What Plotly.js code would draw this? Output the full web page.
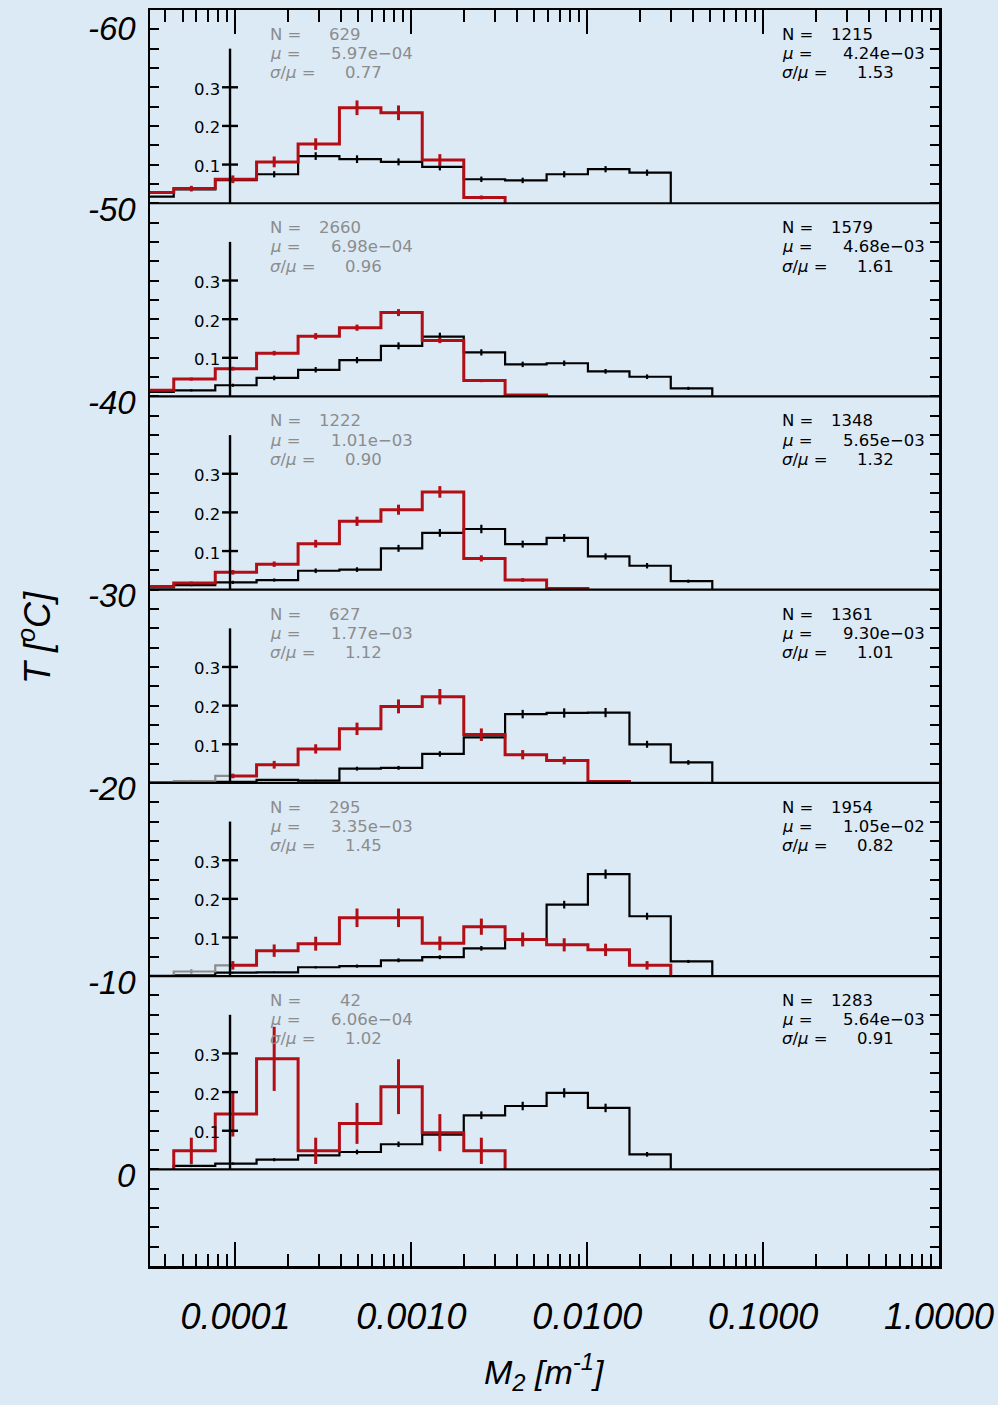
<!DOCTYPE html>
<html>
<head>
<meta charset="utf-8">
<script src="https://cdn.plot.ly/plotly-3.0.1.min.js"></script>
<style>
  html, body { margin: 0; padding: 0; background: rgb(220,234,246); }
  #chart { width: 998px; height: 1405px; }
</style>
</head>
<body>
<div id="chart"></div>
<script>
// Logarithmic M2 bins [m^-1]: 16 edges, 15 bins
const binEdges = [2.594e-5, 4.457e-5, 7.674e-5, 1.318e-4, 2.270e-4, 3.899e-4, 6.714e-4, 1.153e-3,
                  1.986e-3, 3.412e-3, 5.875e-3, 1.009e-2, 1.738e-2, 2.985e-2, 5.140e-2, 8.831e-2];
const binCenters = [3.266e-5, 5.610e-5, 9.66e-5, 1.660e-4, 2.858e-4, 4.909e-4, 8.453e-4, 1.452e-3,
                    2.500e-3, 4.295e-3, 7.396e-3, 1.271e-2, 2.188e-2, 3.758e-2, 6.471e-2];

// Temperature at the bottom of each 10-degree panel (top panel first)
const panelBaseT = [-50, -40, -30, -20, -10, 0];

// Fraction of samples per bin, red population
const redFrac = [
  [0.028, 0.038, 0.062, 0.107, 0.153, 0.247, 0.234, 0.112, 0.015, null, null, null, null, null, null],
  [0.016, 0.045, 0.072, 0.112, 0.156, 0.178, 0.217, 0.145, 0.041, 0.004, null, null, null, null, null],
  [0.008, 0.017, 0.045, 0.066, 0.119, 0.177, 0.207, 0.253, 0.081, 0.025, 0.003, null, null, null, null],
  [null, null, 0.018, 0.047, 0.088, 0.140, 0.198, 0.223, 0.125, 0.073, 0.058, 0.004, null, null, null],
  [null, null, 0.028, 0.066, 0.084, 0.151, 0.151, 0.085, 0.128, 0.095, 0.081, 0.068, 0.028, null, null],
  [null, 0.048, 0.143, 0.286, 0.048, 0.119, 0.214, 0.095, 0.048, null, null, null, null, null, null]
];
const redErr = [
  [null, 0.007, 0.010, 0.014, 0.015, 0.019, 0.019, 0.015, 0.005, null, null, null, null, null, null],
  [null, 0.004, 0.005, 0.006, 0.008, 0.008, 0.009, 0.007, 0.004, 0.001, null, null, null, null, null],
  [null, 0.004, 0.006, 0.007, 0.010, 0.012, 0.013, 0.015, 0.008, 0.005, 0.002, null, null, null, null],
  [null, null, 0.006, 0.010, 0.012, 0.016, 0.018, 0.020, 0.016, 0.012, 0.010, 0.003, null, null, null],
  [null, null, 0.011, 0.016, 0.018, 0.024, 0.024, 0.018, 0.021, 0.018, 0.017, 0.016, 0.011, null, null],
  [null, 0.034, 0.058, 0.083, 0.034, 0.053, 0.071, 0.048, 0.034, null, null, null, null, null, null]
];

// Low-M2 part of the red population drawn in gray
const grayFrac = [
  [], [], [],
  [null, 0.005, 0.018],
  [null, 0.012, 0.028],
  []
];
const grayErr = [
  [], [], [],
  [null, 0.003, null],
  [null, 0.006, null],
  []
];

// Fraction of samples per bin, black population
const blackFrac = [
  [0.017, 0.036, 0.060, 0.075, 0.122, 0.114, 0.107, 0.094, 0.062, 0.059, 0.075, 0.088, 0.079, null, null],
  [0.012, 0.016, 0.029, 0.048, 0.069, 0.094, 0.131, 0.155, 0.114, 0.083, 0.086, 0.065, 0.051, 0.021, null],
  [0.006, 0.012, 0.019, 0.025, 0.049, 0.052, 0.107, 0.147, 0.157, 0.118, 0.134, 0.086, 0.062, 0.022, null],
  [0.001, 0.001, 0.003, 0.008, 0.006, 0.037, 0.039, 0.075, 0.118, 0.178, 0.181, 0.182, 0.100, 0.053, null],
  [0.001, 0.002, 0.009, 0.010, 0.023, 0.026, 0.041, 0.049, 0.072, 0.094, 0.185, 0.264, 0.155, 0.038, null],
  [null, 0.009, 0.015, 0.025, 0.036, 0.045, 0.065, 0.090, 0.140, 0.164, 0.198, 0.159, 0.039, null, null]
];
const blackErr = [
  [null, 0.005, 0.007, 0.008, 0.010, 0.010, 0.009, 0.009, 0.007, 0.007, 0.008, 0.008, 0.008, null, null],
  [null, 0.003, 0.004, 0.006, 0.007, 0.008, 0.009, 0.010, 0.008, 0.007, 0.007, 0.006, 0.006, 0.004, null],
  [null, 0.003, 0.004, 0.004, 0.006, 0.006, 0.009, 0.010, 0.011, 0.009, 0.010, 0.008, 0.007, 0.004, null],
  [null, null, 0.001, 0.002, 0.002, 0.005, 0.005, 0.007, 0.009, 0.011, 0.012, 0.012, 0.009, 0.006, null],
  [null, null, 0.002, 0.002, 0.003, 0.004, 0.005, 0.005, 0.006, 0.007, 0.010, 0.012, 0.009, 0.004, null],
  [null, 0.003, 0.003, 0.004, 0.005, 0.006, 0.007, 0.008, 0.010, 0.011, 0.012, 0.011, 0.006, null, null]
];

// Sample statistics per panel
const redN   = ['629', '2660', '1222', '627', '295', '42'];
const redMu  = ['5.97e\u221204', '6.98e\u221204', '1.01e\u221203', '1.77e\u221203', '3.35e\u221203', '6.06e\u221204'];
const redCv  = ['0.77', '0.96', '0.90', '1.12', '1.45', '1.02'];
const blackN  = ['1215', '1579', '1348', '1361', '1954', '1283'];
const blackMu = ['4.24e\u221203', '4.68e\u221203', '5.65e\u221203', '9.30e\u221203', '1.05e\u221202', '5.64e\u221203'];
const blackCv = ['1.53', '1.61', '1.32', '1.01', '0.82', '0.91'];

// Axis ticks
const xTickVals = [1e-4, 1e-3, 1e-2, 1e-1, 1];
const xTickText = ['0.0001', '0.0010', '0.0100', '0.1000', '1.0000'];
const yTickVals = [-60, -50, -40, -30, -20, -10, 0];
const yTickText = ['-60', '-50', '-40', '-30', '-20', '-10', '0'];
const fracTickVals = [0.1, 0.2, 0.3];
const fracTickText = ['0.1', '0.2', '0.3'];
const fracAxisX = 9.31e-5;   // position of the in-panel fraction scale
const fracAxisTop = 0.4;

// ---------------- drawing ----------------
const DEG_PER_FRAC = 20;          // 0.1 of the samples spans 2 degrees
const RED = 'rgb(178,14,22)';
const GRAY = 'rgb(140,140,140)';
const BG = 'rgb(220,234,246)';
const plotLeft = 150, plotWidth = 789;
const xRange = [-4.486, 0.0];
const pxPerDecade = plotWidth / (xRange[1] - xRange[0]);
const toPaperX = px => (px - plotLeft) / plotWidth;

function stepLine(fracs, base, opts) {
  opts = opts || {};
  let i0 = -1, i1 = -1;
  fracs.forEach((v, i) => { if (v !== null && v !== undefined) { if (i0 < 0) i0 = i; i1 = i; } });
  const xs = [], ys = [];
  const xStart = opts.startX !== undefined ? opts.startX : binEdges[i0];
  if (opts.startX === undefined) { xs.push(xStart); ys.push(base); }
  for (let i = i0; i <= i1; i++) {
    xs.push(i === i0 ? xStart : binEdges[i]);
    ys.push(base - fracs[i] * DEG_PER_FRAC);
  }
  if (opts.endX !== undefined) {
    xs.push(opts.endX); ys.push(base - fracs[i1] * DEG_PER_FRAC);
  } else {
    xs.push(binEdges[i1 + 1]); ys.push(base);
  }
  return { x: xs, y: ys };
}

function errPoints(fracs, errs, base, xMin, xMax) {
  const x = [], y = [], e = [];
  fracs.forEach((v, i) => {
    const err = errs[i];
    if (v === null || v === undefined || err === null || err === undefined) return;
    const c = binCenters[i];
    if (xMin !== undefined && c < xMin) return;
    if (xMax !== undefined && c > xMax) return;
    x.push(c); y.push(base - v * DEG_PER_FRAC); e.push(err * DEG_PER_FRAC);
  });
  return { x, y, e };
}

const traces = [];
const annotations = [];
const shapes = [];

function addStep(line, color, width) {
  traces.push({ type: 'scatter', mode: 'lines', x: line.x, y: line.y,
    line: { color, width, shape: 'hv' }, hoverinfo: 'skip', showlegend: false });
}
function addErr(p, color, thickness) {
  if (!p.x.length) return;
  traces.push({ type: 'scatter', mode: 'markers', x: p.x, y: p.y,
    marker: { size: 2, color: 'rgba(0,0,0,0)' },
    error_y: { type: 'data', array: p.e, visible: true, width: 0, thickness, color },
    hoverinfo: 'skip', showlegend: false });
}

const tickLo = fracAxisX * Math.pow(10, -8 / pxPerDecade);
const tickHi = fracAxisX * Math.pow(10, 8 / pxPerDecade);

panelBaseT.forEach((base, p) => {
  const hasGray = grayFrac[p].some(v => v !== null && v !== undefined);

  // black population
  addStep(stepLine(blackFrac[p], base), 'black', 2.2);
  // red population (its low-M2 end drawn gray in some panels)
  if (hasGray) {
    addStep(stepLine(redFrac[p], base, { startX: fracAxisX }), RED, 3);
    addStep(stepLine(grayFrac[p], base, { endX: fracAxisX }), GRAY, 2.2);
  } else {
    addStep(stepLine(redFrac[p], base), RED, 3);
  }

  addErr(errPoints(blackFrac[p], blackErr[p], base), 'black', 2.2);
  addErr(errPoints(redFrac[p], redErr[p], base, hasGray ? fracAxisX : undefined), RED, 3);
  if (hasGray) addErr(errPoints(grayFrac[p], grayErr[p], base, undefined, fracAxisX), GRAY, 2.2);

  // in-panel fraction scale
  const ax = [fracAxisX, fracAxisX], ay = [base, base - fracAxisTop * DEG_PER_FRAC];
  fracTickVals.forEach(v => {
    ax.push(null, tickLo, tickHi);
    ay.push(null, base - v * DEG_PER_FRAC, base - v * DEG_PER_FRAC);
  });
  traces.push({ type: 'scatter', mode: 'lines', x: ax, y: ay,
    line: { color: 'black', width: 2.4 }, hoverinfo: 'skip', showlegend: false });
  fracTickVals.forEach((v, i) => {
    annotations.push({ xref: 'x', yref: 'y', x: Math.log10(fracAxisX), y: base - v * DEG_PER_FRAC,
      xanchor: 'right', yanchor: 'middle', xshift: -8, yshift: -2, showarrow: false,
      text: fracTickText[i], font: { family: 'DejaVu Sans', size: 16.5, color: 'black' } });
  });

  // statistics blocks
  const top = base - 10;
  const rows = [top + 1.26, top + 2.26, top + 3.25];
  const blocks = [
    { dx: 0, color: GRAY, n: redN[p], mu: redMu[p], cv: redCv[p] },
    { dx: 512, color: 'black', n: blackN[p], mu: blackMu[p], cv: blackCv[p] }
  ];
  blocks.forEach(b => {
    const f = { family: 'DejaVu Sans', size: 16.5, color: b.color };
    const lab = (txt, y) => annotations.push({ xref: 'paper', yref: 'y', x: toPaperX(268 + b.dx), y,
      xanchor: 'left', yanchor: 'middle', showarrow: false, text: txt, font: f });
    lab('N =', rows[0]);
    lab('<i>\u03bc</i> =', rows[1]);
    lab('<i>\u03c3</i>/<i>\u03bc</i> =', rows[2]);
    annotations.push({ xref: 'paper', yref: 'y', x: toPaperX(363 + b.dx), y: rows[0],
      xanchor: 'right', yanchor: 'middle', showarrow: false, text: b.n, font: f });
    annotations.push({ xref: 'paper', yref: 'y', x: toPaperX(329 + b.dx), y: rows[1],
      xanchor: 'left', yanchor: 'middle', showarrow: false, text: b.mu, font: f });
    annotations.push({ xref: 'paper', yref: 'y', x: toPaperX(343 + b.dx), y: rows[2],
      xanchor: 'left', yanchor: 'middle', showarrow: false, text: b.cv, font: f });
  });

  // panel separator
  shapes.push({ type: 'line', xref: 'paper', x0: 0, x1: 1, yref: 'y', y0: base, y1: base,
    line: { color: 'black', width: 2.2 } });
});

// temperature labels
yTickVals.forEach((v, i) => {
  annotations.push({ xref: 'paper', yref: 'y', x: 0, y: v, xanchor: 'right', yanchor: 'middle',
    xshift: -12, yshift: i === 0 ? -18 : -6, showarrow: false, text: yTickText[i],
    font: { family: 'Liberation Sans', size: 33, style: 'italic', color: 'black' } });
});

// axis titles
annotations.push({ xref: 'paper', yref: 'paper', x: toPaperX(35), y: 0.5, xanchor: 'center', yanchor: 'middle',
  textangle: -90, showarrow: false, text: 'T [<sup>o</sup>C]',
  font: { family: 'Liberation Sans', size: 36, style: 'italic', color: 'black' } });
annotations.push({ xref: 'paper', yref: 'paper', x: 0.5, y: -0.064, xanchor: 'center', yanchor: 'top',
  showarrow: false, text: 'M<sub>2</sub> [m<sup>-1</sup>]',
  font: { family: 'Liberation Sans', size: 34, style: 'italic', color: 'black' } });

const minorX = [];
for (let d = -5; d <= -1; d++) for (let m = 2; m <= 9; m++) minorX.push(m * Math.pow(10, d));

const layout = {
  width: 998, height: 1405,
  margin: { l: 150, r: 59, t: 10, b: 139 },
  paper_bgcolor: BG, plot_bgcolor: BG,
  showlegend: false,
  xaxis: {
    type: 'log', range: xRange, showgrid: false, zeroline: false,
    showline: true, linecolor: 'black', linewidth: 2.5, mirror: 'allticks',
    ticks: 'inside', ticklen: 24, tickwidth: 2, tickcolor: 'black',
    tickmode: 'array', tickvals: xTickVals, ticktext: xTickText,
    ticklabelstandoff: 17,
    tickfont: { family: 'Liberation Sans', size: 36, style: 'italic', color: 'black' },
    minor: { tickmode: 'array', tickvals: minorX, ticks: 'inside', ticklen: 12, tickwidth: 2, tickcolor: 'black', showgrid: false }
  },
  yaxis: {
    range: [5, -60], showgrid: false, zeroline: false,
    showline: true, linecolor: 'black', linewidth: 2.5, mirror: 'allticks',
    ticks: 'inside', ticklen: 9, tickwidth: 2, tickcolor: 'black',
    tickmode: 'linear', tick0: 0, dtick: 1, showticklabels: false
  },
  shapes, annotations
};

Plotly.newPlot('chart', traces, layout, { staticPlot: true, displayModeBar: false });
</script>
</body>
</html>
